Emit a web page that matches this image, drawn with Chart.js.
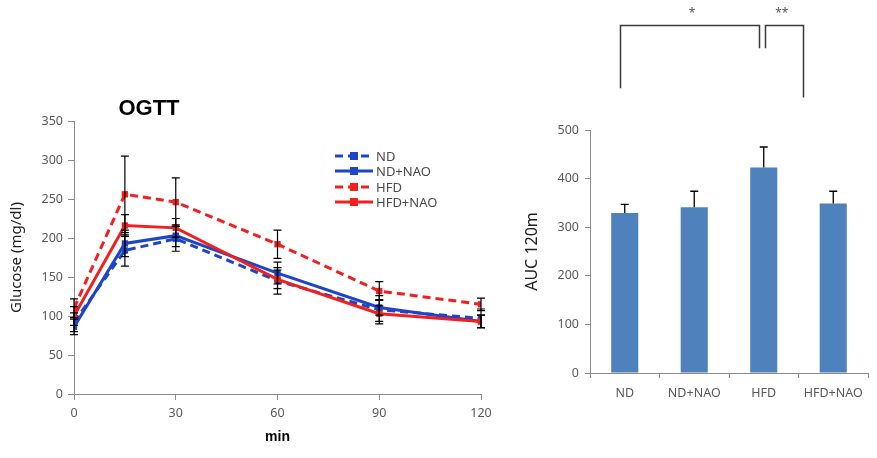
<!DOCTYPE html>
<html><head><meta charset="utf-8">
<script src="https://cdn.jsdelivr.net/npm/chart.js@4/dist/chart.umd.min.js"></script>
<style>
html,body{margin:0;padding:0;background:#fff;}
#wrap{position:relative;width:877px;height:458px;overflow:hidden;background:#fff;}
#c1{position:absolute;left:0;top:0;}
#c2{position:absolute;left:520px;top:0;}
</style></head>
<body><div id="wrap">
<canvas id="c1" width="500" height="458"></canvas>
<canvas id="c2" width="357" height="458"></canvas>
</div>
<script>
// ---- OGTT data ----
const times = [0, 15, 30, 60, 90, 120];
const xTicks = [0, 30, 60, 90, 120];
const ndVals     = [92, 184, 199, 145, 108, 97];
const ndNaoVals  = [86, 193, 203, 155, 111, 93];
const hfdVals    = [110, 256, 246, 192, 132, 115];
const hfdNaoVals = [100, 216, 213, 147, 103, 93];
const ndErr     = [12, 20, 16, 17, 18, 12];
const ndNaoErr  = [10, 17, 14, 14, 10, 8];
const hfdErr    = [12, 49, 31, 18, 12, 8];
const hfdNaoErr = [12, 14, 12, 12, 10, 8];
const seriesNames = ['ND', 'ND+NAO', 'HFD', 'HFD+NAO'];

// ---- AUC data ----
const groups = ['ND', 'ND+NAO', 'HFD', 'HFD+NAO'];
const aucVals = [329, 341, 423, 349];
const aucErr  = [18, 33, 42, 25];
// significance brackets: [x start idx, x end idx, y top, left leg bottom, right leg bottom, label, label x idx]
const sigBrackets = [
  [-0.07, 1.93, 717, 586, 668, '*', 0.97],
  [2.02, 2.56, 717, 668, 567, '**', 2.26]
];

const BLUE = '#1d45c6';
const RED = '#f31e1e';
const TICK_FONT = {family: '"Noto Sans", sans-serif', size: 12.5};
const TICK_COLOR = '#595959';
const AXIS_COLOR = '#8a8a8a';

function pts(vals){ return vals.map((v,i)=>({x:times[i], y:v})); }

const lineErrPlugin = {
  id: 'lineErr',
  afterDatasetsDraw(chart){
    const ctx = chart.ctx, ys = chart.scales.y;
    ctx.save();
    ctx.strokeStyle = '#000'; ctx.lineWidth = 1.2; ctx.setLineDash([]);
    chart.data.datasets.forEach((ds, i) => {
      const meta = chart.getDatasetMeta(i);
      meta.data.forEach((p, j) => {
        const v = ds.data[j].y, e = ds.err[j];
        const yt = ys.getPixelForValue(v + e), yb = ys.getPixelForValue(v - e);
        ctx.beginPath();
        ctx.moveTo(p.x, yt); ctx.lineTo(p.x, yb);
        ctx.moveTo(p.x - 4, yt); ctx.lineTo(p.x + 4, yt);
        ctx.moveTo(p.x - 4, yb); ctx.lineTo(p.x + 4, yb);
        ctx.stroke();
      });
    });
    ctx.restore();
  },
  afterDraw(chart){
    const ctx = chart.ctx;
    ctx.save();
    // title
    ctx.fillStyle = '#000';
    ctx.font = 'bold 22px "Liberation Sans", Arial, sans-serif';
    ctx.textAlign = 'center'; ctx.textBaseline = 'middle';
    ctx.fillText('OGTT', 149, 109);
    // legend
    const rows = [156, 171, 187, 202];
    ctx.font = '13px "Noto Sans", sans-serif';
    ctx.textAlign = 'left';
    chart.data.datasets.forEach((ds, i) => {
      const y = rows[i];
      ctx.strokeStyle = ds.borderColor; ctx.lineWidth = 3;
      ctx.setLineDash(ds.borderDash || []);
      ctx.beginPath(); ctx.moveTo(335, y); ctx.lineTo(373, y); ctx.stroke();
      ctx.setLineDash([]);
      ctx.fillStyle = ds.borderColor;
      ctx.fillRect(350, y - 4, 8, 8);
      ctx.fillStyle = '#4a4a4a';
      ctx.fillText(ds.label, 376, y + 1);
    });
    ctx.restore();
  }
};

new Chart(document.getElementById('c1'), {
  type: 'line',
  data: {
    datasets: [
      {label: seriesNames[0], data: pts(ndVals), err: ndErr, borderColor: BLUE, backgroundColor: BLUE, borderDash: [8,5], order: 4},
      {label: seriesNames[1], data: pts(ndNaoVals), err: ndNaoErr, borderColor: BLUE, backgroundColor: BLUE, order: 3},
      {label: seriesNames[2], data: pts(hfdVals), err: hfdErr, borderColor: RED, backgroundColor: RED, borderDash: [8,5], order: 2},
      {label: seriesNames[3], data: pts(hfdNaoVals), err: hfdNaoErr, borderColor: RED, backgroundColor: RED, order: 1}
    ]
  },
  options: {
    responsive: false, animation: false, devicePixelRatio: 1,
    layout: {padding: {left: 0, right: 19, top: 121, bottom: 0}},
    elements: {
      line: {borderWidth: 3, tension: 0},
      point: {pointStyle: 'rect', radius: 4.5, borderWidth: 0, hoverRadius: 4.5}
    },
    plugins: {legend: {display: false}, tooltip: {enabled: false}},
    scales: {
      x: {
        type: 'linear', min: 0, max: 120,
        afterBuildTicks(s){ s.ticks = xTicks.map(v => ({value: v})); },
        afterFit(s){ s.height = 64; },
        grid: {drawOnChartArea: false, color: AXIS_COLOR, tickLength: 6},
        border: {color: AXIS_COLOR, width: 1},
        ticks: {font: TICK_FONT, color: TICK_COLOR, padding: 6, maxRotation: 0},
        title: {display: true, text: 'min', color: '#000', font: {family: '"Liberation Sans", Arial, sans-serif', size: 14, weight: 'bold'}, padding: {top: 0, bottom: 12}}
      },
      y: {
        min: 0, max: 350,
        afterFit(s){ s.width = 74; },
        grid: {drawOnChartArea: false, color: AXIS_COLOR, tickLength: 6},
        border: {color: AXIS_COLOR, width: 1},
        ticks: {stepSize: 50, font: TICK_FONT, color: TICK_COLOR, padding: 5},
        title: {display: true, text: 'Glucose (mg/dl)', color: '#222', font: {family: '"Noto Sans", sans-serif', size: 15}, padding: {top: 8, bottom: 0}}
      }
    }
  },
  plugins: [lineErrPlugin]
});

const barPlugin = {
  id: 'barExtras',
  afterDatasetsDraw(chart){
    const ctx = chart.ctx, ys = chart.scales.y;
    const meta = chart.getDatasetMeta(0);
    ctx.save();
    ctx.strokeStyle = '#000'; ctx.lineWidth = 1.3;
    meta.data.forEach((b, j) => {
      const v = aucVals[j], e = aucErr[j];
      const yt = ys.getPixelForValue(v + e), y0 = ys.getPixelForValue(v);
      ctx.beginPath();
      ctx.moveTo(b.x, y0); ctx.lineTo(b.x, yt);
      ctx.moveTo(b.x - 4, yt); ctx.lineTo(b.x + 4, yt);
      ctx.stroke();
    });
    ctx.restore();
  },
  afterDraw(chart){
    const ctx = chart.ctx, xs = chart.scales.x, ys = chart.scales.y;
    ctx.save();
    ctx.strokeStyle = '#3a3a3a'; ctx.lineWidth = 1.5;
    ctx.fillStyle = '#555';
    ctx.font = '12px "Noto Sans", sans-serif';
    ctx.textAlign = 'center'; ctx.textBaseline = 'middle';
    sigBrackets.forEach(([a, b, top, lb, rb, lab, lx]) => {
      const xa = Math.round(xs.getPixelForValue(a)) + 0.5;
      const xb = Math.round(xs.getPixelForValue(b)) + 0.5;
      const yt = Math.round(ys.getPixelForValue(top)) + 0.5;
      ctx.beginPath();
      ctx.moveTo(xa, ys.getPixelForValue(lb));
      ctx.lineTo(xa, yt); ctx.lineTo(xb, yt);
      ctx.lineTo(xb, ys.getPixelForValue(rb));
      ctx.stroke();
      ctx.fillText(lab, xs.getPixelForValue(lx), ys.getPixelForValue(top) - 11);
    });
    ctx.restore();
  }
};

new Chart(document.getElementById('c2'), {
  type: 'bar',
  data: {
    labels: groups,
    datasets: [{data: aucVals, backgroundColor: '#4f81bd', borderWidth: 0, barPercentage: 0.39, categoryPercentage: 1}]
  },
  options: {
    responsive: false, animation: false, devicePixelRatio: 1,
    layout: {padding: {left: 0, right: 9, top: 130, bottom: 0}},
    plugins: {legend: {display: false}, tooltip: {enabled: false}},
    scales: {
      x: {
        afterFit(s){ s.height = 85; },
        grid: {drawOnChartArea: false, color: AXIS_COLOR, tickLength: 5, offset: true},
        border: {color: AXIS_COLOR, width: 1},
        ticks: {font: TICK_FONT, color: TICK_COLOR, padding: 8, maxRotation: 0}
      },
      y: {
        min: 0, max: 500,
        afterFit(s){ s.width = 70; },
        grid: {drawOnChartArea: false, color: AXIS_COLOR, tickLength: 5},
        border: {color: AXIS_COLOR, width: 1},
        ticks: {stepSize: 100, font: TICK_FONT, color: TICK_COLOR, padding: 6},
        title: {display: true, text: 'AUC 120m', color: '#222', font: {family: '"Noto Sans", sans-serif', size: 16}, padding: {top: 3, bottom: 0}}
      }
    }
  },
  plugins: [barPlugin]
});
</script>
</body></html>
